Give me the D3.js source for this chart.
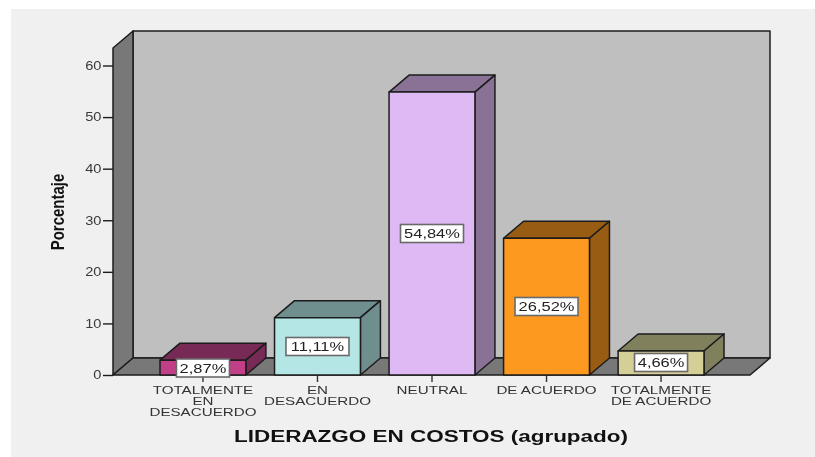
<!DOCTYPE html>
<html><head><meta charset="utf-8">
<script src="https://cdn.jsdelivr.net/npm/d3@7/dist/d3.min.js"></script>
<style>html,body{margin:0;padding:0;background:#fff}svg{display:block;filter:blur(0.4px)}</style>
</head><body><svg id="c" width="815" height="457"></svg>
<script>
const categories = [["TOTALMENTE","EN","DESACUERDO"],["EN","DESACUERDO"],["NEUTRAL"],["DE ACUERDO"],["TOTALMENTE","DE ACUERDO"]];
const values = [2.87,11.11,54.84,26.52,4.66];
const labels = ["2,87%","11,11%","54,84%","26,52%","4,66%"];
const frontColors = ["#c03f86","#b5e6e6","#dfb9f3","#fd991f","#d3cf97"];
const sideColors = ["#772a56","#6f8e8e","#8a7296","#985c12","#81805c"];
const yTicks = [0,10,20,30,40,50,60];
const axisTitle = "Porcentaje";
const xTitle = "LIDERAZGO EN COSTOS (agrupado)";

const font = "'Liberation Sans',Arial,sans-serif";
const svg = d3.select("#c");
const dx = 20, dy = -17;
const y = d3.scaleLinear().domain([0,60]).range([375,65.5]);
const x = d3.scaleBand().domain(d3.range(values.length)).range([160,704]).paddingInner(0.25);
const L = 113, R = 750, B = y(0), T = 48;
const ink = "#1c1c1c";
const poly = (pts,fill,sw=1.5)=>svg.append("polygon").attr("points",pts.map(p=>p.join(",")).join(" "))
  .attr("fill",fill).attr("stroke",ink).attr("stroke-width",sw).attr("stroke-linejoin","round");

svg.append("rect").attr("x",11).attr("y",9).attr("width",804).attr("height",448).attr("fill","#f0f0f0");
poly([[L+dx,T+dy],[R+dx,T+dy],[R+dx,B+dy],[L+dx,B+dy]],"#bfbfbf");
poly([[L,T],[L+dx,T+dy],[L+dx,B+dy],[L,B]],"#787878");
poly([[L,B],[L+dx,B+dy],[R+dx,B+dy],[R,B]],"#787878");

const yAxis = d3.axisLeft(y).tickValues(yTicks).tickSize(10).tickPadding(1.5).tickFormat(d3.format("d"));
const gy = svg.append("g").attr("transform",`translate(${L},0)`).call(yAxis);
gy.select(".domain").remove();
gy.selectAll("line").attr("stroke",ink).attr("stroke-width",1.4);
gy.selectAll("text").attr("font-family",font).attr("font-size",12).attr("fill","#3a3a3a")
  .attr("transform","translate(-11.5,0) scale(1.22,1) translate(11.5,0)");

const xc = i=>x(i)+x.bandwidth()/2;
const gx = svg.append("g");
gx.selectAll("line").data(values).join("line")
  .attr("x1",(d,i)=>xc(i)).attr("x2",(d,i)=>xc(i)).attr("y1",B).attr("y2",B+7)
  .attr("stroke","#333").attr("stroke-width",1.4);
categories.forEach((lines,i)=>{
  lines.forEach((t,j)=>{
    gx.append("text").attr("transform",`translate(${xc(i)},${394+j*11}) scale(1.32,1)`).attr("text-anchor","middle")
      .attr("font-family",font).attr("font-size",11.5).attr("fill","#333").text(t);
  });
});

values.forEach((v,i)=>{
  const a = x(i), b = a+x.bandwidth(), t = y(v);
  poly([[a,t],[a+dx,t+dy],[b+dx,t+dy],[b,t]],sideColors[i]);
  poly([[b,t],[b+dx,t+dy],[b+dx,B+dy],[b,B]],sideColors[i]);
  poly([[a,t],[b,t],[b,B],[a,B]],frontColors[i]);
});
const labelY = [368,346.5,233.5,306.5,362.5];
values.forEach((v,i)=>{
  const cx = xc(i), w = labels[i].length>5?63:53, h=18;
  const cy = labelY[i];
  svg.append("rect").attr("x",cx-w/2).attr("y",cy-h/2).attr("width",w).attr("height",h)
    .attr("fill","#fff").attr("stroke","#6a6a6a").attr("stroke-width",1.6);
  svg.append("text").attr("transform",`translate(${cx},${cy+4.8}) scale(1.22,1)`).attr("text-anchor","middle")
    .attr("font-family",font).attr("font-size",13.5).attr("fill","#222").text(labels[i]);
});

svg.append("text").attr("transform","translate(64,212) rotate(-90) scale(1,1.27)").attr("text-anchor","middle")
  .attr("font-family",font).attr("font-size",15).attr("font-weight","bold").attr("fill","#111").text(axisTitle);
svg.append("text").attr("transform","translate(431,442) scale(1.405,1)").attr("text-anchor","middle")
  .attr("font-family",font).attr("font-size",16).attr("font-weight","bold").attr("fill","#111").text(xTitle);
</script></body></html>
